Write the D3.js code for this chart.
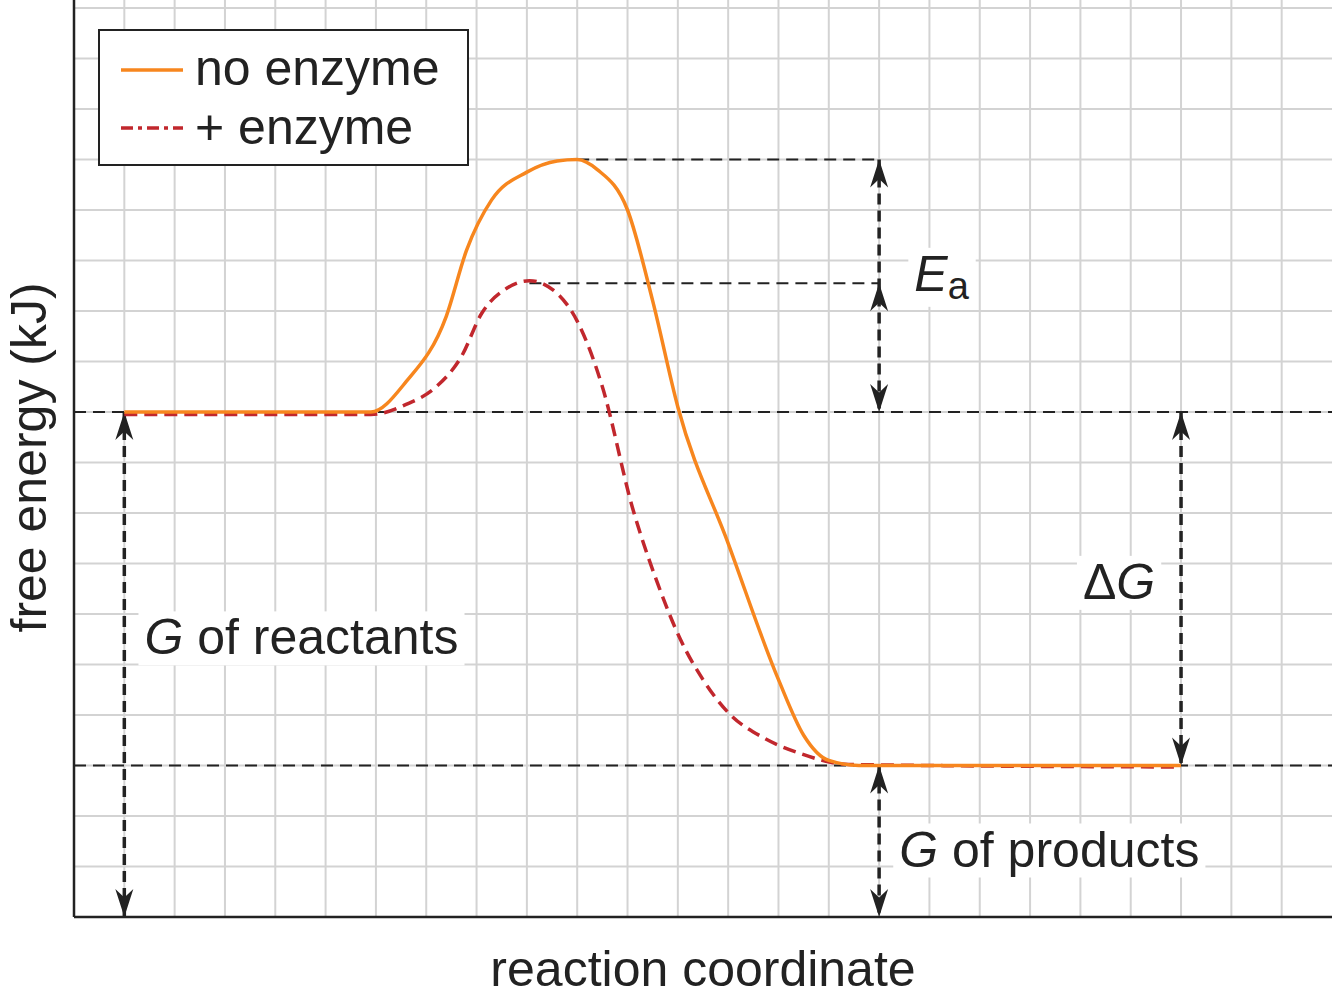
<!DOCTYPE html>
<html><head><meta charset="utf-8">
<script src="https://cdn.jsdelivr.net/npm/d3@7"></script>
<style>body{margin:0;background:#fff}svg{display:block;font-family:"Liberation Sans",Arial,sans-serif}</style>
</head><body><svg id="chart" width="1332" height="997"></svg>
<script>
// data in grid units
const noEnzyme = [[1,10],[5.9,10],[6.6,10.6],[7.4,11.9],[7.8,13.2],[8.3,14.2],[9,14.75],[9.6,14.97],[10,15],[10.4,14.8],[11,14.0],[11.5,12.2],[12,10.1],[13,7.4],[14,4.7],[14.5,3.6],[15,3.1],[15.6,3],[22,3]];
const plusEnzyme = [[1,9.95],[5.9,9.95],[6.6,10.15],[7.2,10.5],[7.7,11.1],[8.1,11.95],[8.6,12.45],[9.05,12.6],[9.6,12.35],[10,11.8],[10.5,10.5],[11.1,8.1],[11.6,6.6],[12.05,5.5],[12.5,4.7],[13,4.05],[13.7,3.55],[14.4,3.25],[15.4,3.02],[22,2.97]];
const xMax = 25, yMax = 18.2;
const reactantsG = 10, productsG = 3, peakNo = 15, peakEnz = 12.6;

const svg = d3.select("#chart");
const m = {l:74, t:0, r:1332, b:917};
const x = d3.scaleLinear().domain([0,xMax]).range([m.l,m.r]);
const y = d3.scaleLinear().domain([0,yMax]).range([m.b,m.b-yMax*50.5]);
const FS = 50;

// grid
svg.append("g").selectAll("line").data(d3.range(1,xMax)).enter().append("line")
  .attr("x1",d=>x(d)).attr("x2",d=>x(d)).attr("y1",m.t).attr("y2",m.b)
  .attr("stroke","#d3d3d3").attr("stroke-width",2);
svg.append("g").selectAll("line").data(d3.range(1,19)).enter().append("line")
  .attr("x1",m.l).attr("x2",m.r).attr("y1",d=>y(d)).attr("y2",d=>y(d))
  .attr("stroke","#d3d3d3").attr("stroke-width",2);

// axes
svg.append("line").attr("x1",m.l).attr("x2",m.l).attr("y1",0).attr("y2",m.b).attr("stroke","#222").attr("stroke-width",2.5);
svg.append("line").attr("x1",m.l).attr("x2",m.r).attr("y1",m.b).attr("y2",m.b).attr("stroke","#222").attr("stroke-width",2.5);

// reference dashes
const dash = (x1,y1,x2,y2)=>svg.append("line").attr("x1",x(x1)).attr("y1",y(y1)).attr("x2",x(x2)).attr("y2",y(y2))
  .attr("stroke","#222").attr("stroke-width",1.8).attr("stroke-dasharray","12,7");
dash(0,reactantsG,xMax,reactantsG);
dash(0,productsG,xMax,productsG);
dash(10,peakNo,16,peakNo);
dash(9.05,12.55,16,12.55);

// labels with white backgrounds
function label(cx,cy,parts,anchor){
  const t = svg.append("text").attr("x",cx).attr("y",cy).attr("font-size",FS).attr("fill","#222").attr("text-anchor",anchor||"start");
  parts.forEach(p=>{const s=t.append("tspan").text(p[0]); if(p[1]) s.attr("font-style","italic"); if(p[2]) s.attr("font-size",38).attr("dy",p[2]);});
  const bb = t.node().getBBox();
  svg.insert("rect","text").attr("x",bb.x-6).attr("y",bb.y+2).attr("width",bb.width+12).attr("height",bb.height-2).attr("fill","#fff");
}

// arrows: dashed shaft + filled heads
function head(xv,yv,dir){ // dir -1 = pointing up, 1 = pointing down
  const px=x(xv), py=y(yv), L=28, W=9;
  svg.append("path").attr("d",`M${px},${py} L${px-W},${py-dir*L} L${px},${py-dir*L*0.7} L${px+W},${py-dir*L} Z`).attr("fill","#222");
}
function arrow(xv,y1,y2){
  svg.append("line").attr("x1",x(xv)).attr("x2",x(xv)).attr("y1",y(y1)).attr("y2",y(y2))
    .attr("stroke","#222").attr("stroke-width",3.5).attr("stroke-dasharray","11,6");
  head(xv,y1,y1>y2?-1:1); head(xv,y2,y2>y1?-1:1);
}

label(x(1.4),y(5.2),[["G",1],[" of reactants"]]);
label(x(16.4),y(1.0),[["G",1],[" of products"]]);
label(x(20.05),y(6.3),[["\u0394"],["G",1]]);
label(x(16.7),y(12.4),[["E",1],["a",0,8]]);

arrow(1,reactantsG,0);
arrow(16,productsG,0);
arrow(22,reactantsG,productsG);
arrow(16,peakNo,reactantsG);
head(16,peakEnz-0.05,-1);

// curves
const line = d3.line().x(d=>x(d[0])).y(d=>y(d[1])).curve(d3.curveMonotoneX);
svg.append("path").datum(plusEnzyme).attr("d",line).attr("fill","none").attr("stroke","#c1272d").attr("stroke-width",3.5).attr("stroke-dasharray","13,7");
svg.append("path").datum(noEnzyme).attr("d",line).attr("fill","none").attr("stroke","#f7861e").attr("stroke-width",3.5);

// legend
const lg = svg.append("g").attr("transform","translate(99,30)");
lg.append("rect").attr("width",369).attr("height",135).attr("fill","#fff").attr("stroke","#222").attr("stroke-width",2);
lg.append("line").attr("x1",22).attr("x2",84).attr("y1",40).attr("y2",40).attr("stroke","#f7861e").attr("stroke-width",3.5);
lg.append("line").attr("x1",22).attr("x2",84).attr("y1",98).attr("y2",98).attr("stroke","#c1272d").attr("stroke-width",3.5).attr("stroke-dasharray","12,5,4,5");
lg.append("text").attr("x",96).attr("y",55).attr("font-size",FS).attr("fill","#222").text("no enzyme");
lg.append("text").attr("x",96).attr("y",114).attr("font-size",FS).attr("fill","#222").text("+ enzyme");

// axis titles
svg.append("text").attr("x",(m.l+m.r)/2).attr("y",986).attr("text-anchor","middle").attr("font-size",FS).attr("fill","#222").text("reaction coordinate");
svg.append("text").attr("transform",`translate(46,${y(9.1)}) rotate(-90)`).attr("text-anchor","middle").attr("font-size",FS).attr("fill","#222").text("free energy (kJ)");
</script></body></html>
